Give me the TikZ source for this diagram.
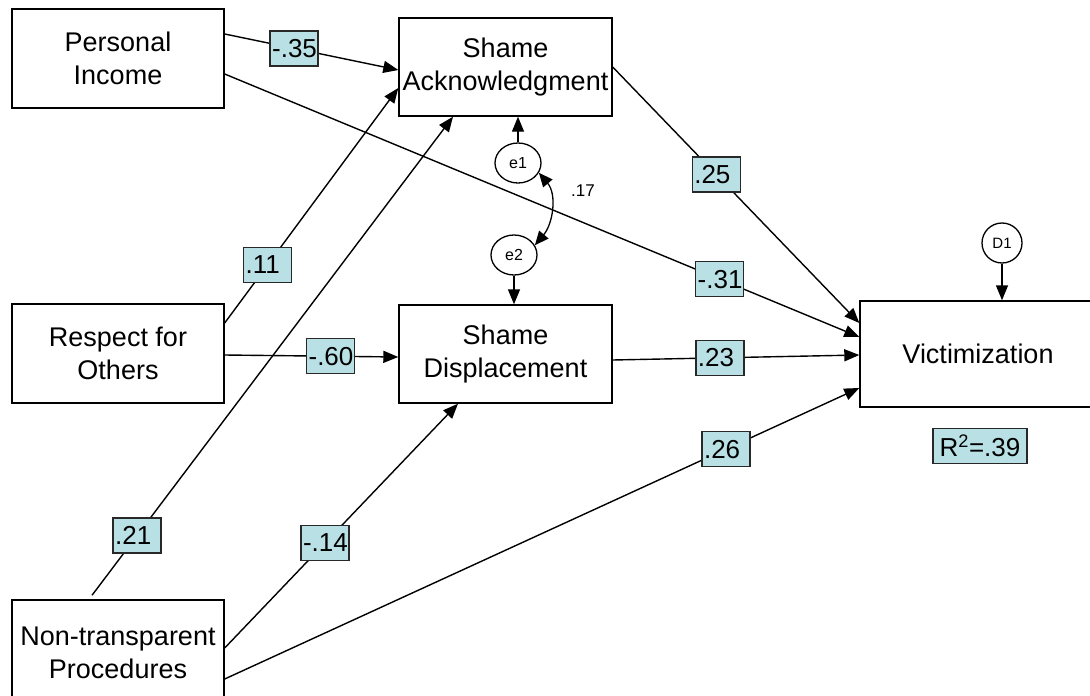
\documentclass[tikz,border=0pt]{standalone}
\usepackage{fontspec}
\setmainfont{Liberation Sans}
\usetikzlibrary{arrows.meta,calc,shapes.geometric}
\definecolor{labfill}{RGB}{185,225,229}
\definecolor{labdraw}{RGB}{40,40,40}
\newcommand\coef[1]{\makebox[44pt][l]{#1}}
\begin{document}
\begin{tikzpicture}[x=1pt,y=-1pt,
  box/.style={draw,line width=1.4pt,rectangle,align=center,font=\fontsize{27}{33}\selectfont,inner sep=0pt},
  lab/.style={draw=labdraw,fill=labfill,line width=1.3pt,inner xsep=2pt,inner ysep=0pt,minimum height=35pt,font=\fontsize{26}{30}\selectfont},
  err/.style={draw,fill=white,line width=1.3pt,ellipse,minimum width=46pt,minimum height=40pt,inner sep=0pt,font=\fontsize{16}{18}\selectfont},
  arr/.style={line width=1.4pt,-{Triangle[length=15pt,width=12pt]}},
  ]
\useasboundingbox (0,0) rectangle (1090,696);
\fill[white] (0,0) rectangle (1090,696);
\clip (0,0) rectangle (1090,696);

\node[box,minimum width=212pt,minimum height=99pt] (PI) at (118,58.5) {Personal\\Income};
\node[box,minimum width=213pt,minimum height=98pt] (SA) at (505.5,67) {Shame\\Acknowledgment};
\node[box,minimum width=212pt,minimum height=99pt] (RO) at (118,353.5) {Respect for\\Others};
\node[box,minimum width=213pt,minimum height=98pt] (SD) at (505.5,354) {Shame\\Displacement};
\node[box,minimum width=212pt,minimum height=106pt] (NT) at (118,653) {Non-transparent\\Procedures};
\node[box,minimum width=236pt,minimum height=106pt] (V) at (978,354) {Victimization};

\node[err] (e1) at (518,163) {e1};
\node[err] (e2) at (514,255) {e2};
\node[draw,fill=white,circle,line width=1.3pt,minimum size=40pt,inner sep=0pt,font=\fontsize{15}{17}\selectfont] (D1) at (1002,243) {D1};

\draw[arr] ($(PI.east)+(0,-24.5)$) -- node[lab,pos=0.4] (l1) {\coef{-.35}} ($(SA.west)+(0,3)$);
\draw[arr] ($(PI.east)+(0,15.5)$) -- node[lab,pos=0.78] (l2) {\coef{-.31}} ($(V.west)+(0,-17)$);
\draw[arr] ($(RO.east)+(0,-30.5)$) -- node[lab,pos=0.247] (l3) {\coef{.11}} ($(SA.west)+(0,21)$);
\draw[arr] ($(RO.east)+(0,1.5)$) -- node[lab,pos=0.61] (l4) {\coef{-.60}} ($(SD.west)+(0,3)$);
\draw[arr] ($(NT.north)+(-26,-4)$) -- node[lab,pos=0.125] (l5) {\coef{.21}} ($(SA.south)+(-52.5,0)$);
\draw[arr] ($(NT.east)+(0,-5)$) -- node[lab,pos=0.43] (l6) {\coef{-.14}} ($(SD.south)+(-47.5,0)$);
\draw[arr] ($(NT.east)+(0,26)$) -- node[lab,pos=0.79] (l7) {\coef{.26}} ($(V.west)+(0,34)$);
\draw[arr] (SA.east) -- node[lab,pos=0.42] (l8) {\coef{.25}} ($(V.west)+(0,-31)$);
\draw[arr] ($(SD.east)+(0,6)$) -- node[lab,pos=0.435] (l9) {\coef{.23}} ($(V.west)+(0,1)$);

\draw[arr] (e1.north) -- (e1.north |- SA.south);
\draw[arr] (e2.south) -- (e2.south |- SD.north);
\draw[arr] (D1.south) -- (D1.south |- V.north);
\draw[line width=1.3pt,{Triangle[length=14pt,width=12pt]}-{Triangle[length=14pt,width=12pt]}] (e1.-25) to[out=-50,in=50] (e2.25);
\node[font=\fontsize{17}{19}\selectfont] (c17) at (583,191) {.17};

\node[lab,minimum width=94pt,inner xsep=0pt] (R2) at (980,446) {R\textsuperscript{2}=.39};
\end{tikzpicture}
\end{document}
